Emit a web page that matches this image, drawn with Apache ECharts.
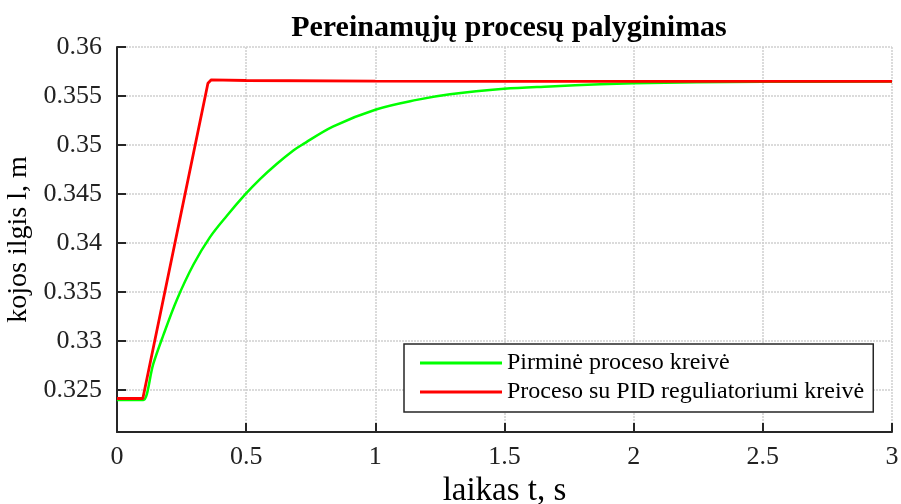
<!DOCTYPE html>
<html>
<head>
<meta charset="utf-8">
<script src="https://cdn.jsdelivr.net/npm/echarts@6/dist/echarts.min.js"></script>
<style>
  html, body { margin: 0; padding: 0; background: #ffffff; }
  #chart { width: 901px; height: 504px; }
</style>
</head>
<body>
<div id="chart"></div>
<script>
// Time axis (s) and leg length (m) for the open-loop response
const timeOpen = [0, 0.085, 0.102, 0.1405, 0.179, 0.231, 0.2955, 0.36, 0.4246, 0.498, 0.5536, 0.618, 0.6826, 0.715, 0.8374, 1.0027, 1.16, 1.289, 1.498, 1.676, 1.87, 2.0, 2.244, 2.5, 3.0];
const lengthOpen = [0.32397, 0.32397, 0.32397, 0.32765, 0.33056, 0.33416, 0.33777, 0.34059, 0.34275, 0.345, 0.34652, 0.34806, 0.34944, 0.35, 0.3519, 0.35362, 0.3546, 0.35518, 0.35574, 0.35598, 0.3562, 0.3563, 0.3564, 0.35645, 0.35648];

// Time axis (s) and leg length (m) with the PID controller
const timePid = [0, 0.1, 0.352, 0.365, 0.5, 1.0, 1.5, 2.0, 3.0];
const lengthPid = [0.32412, 0.32412, 0.3563, 0.35665, 0.35658, 0.35652, 0.3565, 0.3565, 0.3565];

const yTicks = [0.325, 0.33, 0.335, 0.34, 0.345, 0.35, 0.355, 0.36];
const seriesNames = ['Pirminė proceso kreivė', 'Proceso su PID reguliatoriumi kreivė'];

const pairs = (xs, ys) => xs.map((x, i) => [x, ys[i]]);
const FONT = 'Liberation Serif';
const AXIS_COLOR = '#262626';
const GRID_LINE = { show: true, lineStyle: { color: '#cfcfcf', width: 1.5, type: [2, 1] } };

const chart = echarts.init(document.getElementById('chart'), null, { renderer: 'canvas' });
chart.setOption({
  animation: false,
  backgroundColor: '#ffffff',
  title: {
    text: 'Pereinamųjų procesų palyginimas',
    left: 504, top: 8, textAlign: 'center',
    textStyle: { fontFamily: FONT, fontWeight: 'bold', fontSize: 30, color: '#000' }
  },
  grid: { left: 117, right: 9, top: 47, bottom: 72, containLabel: false, outerBoundsMode: 'none' },
  legend: {
    orient: 'vertical', left: 404, top: 344,
    padding: [7, 9, 8, 16], itemGap: 5,
    itemWidth: 82, itemHeight: 3, icon: 'rect',
    borderColor: AXIS_COLOR, borderWidth: 1.5, backgroundColor: '#ffffff',
    textStyle: { fontFamily: FONT, fontSize: 24, color: '#000', padding: [0, 0, 0, 0] },
    data: seriesNames
  },
  xAxis: {
    type: 'value', min: 0, max: 3, interval: 0.5,
    name: 'laikas t, s', nameLocation: 'middle', nameGap: 37,
    nameTextStyle: { fontFamily: FONT, fontSize: 33, color: '#000' },
    axisLine: { onZero: false, lineStyle: { color: AXIS_COLOR, width: 2 } },
    axisTick: { inside: true, length: 9, lineStyle: { color: AXIS_COLOR, width: 2 } },
    axisLabel: { fontFamily: FONT, fontSize: 26, color: '#222', margin: 12 },
    splitLine: GRID_LINE
  },
  yAxis: {
    type: 'value', min: 0.3207, max: 0.36,
    name: 'kojos ilgis l, m', nameLocation: 'middle', nameGap: 81,
    nameTextStyle: { fontFamily: FONT, fontSize: 28, color: '#000' },
    axisLine: { show: true, lineStyle: { color: AXIS_COLOR, width: 2 } },
    axisTick: { show: true, inside: true, length: 9, customValues: yTicks, lineStyle: { color: AXIS_COLOR, width: 2 } },
    axisLabel: {
      fontFamily: FONT, fontSize: 26, color: '#222', margin: 15, customValues: yTicks,
      formatter: v => String(+v.toFixed(3))
    },
    splitLine: GRID_LINE
  },
  series: [
    {
      name: seriesNames[0], type: 'line', showSymbol: false, smooth: 0.35,
      lineStyle: { color: '#00ff00', width: 2.5 }, itemStyle: { color: '#00ff00' },
      data: pairs(timeOpen, lengthOpen)
    },
    {
      name: seriesNames[1], type: 'line', showSymbol: false,
      lineStyle: { color: '#ff0000', width: 2.8 }, itemStyle: { color: '#ff0000' },
      data: pairs(timePid, lengthPid)
    }
  ]
});
</script>
</body>
</html>
